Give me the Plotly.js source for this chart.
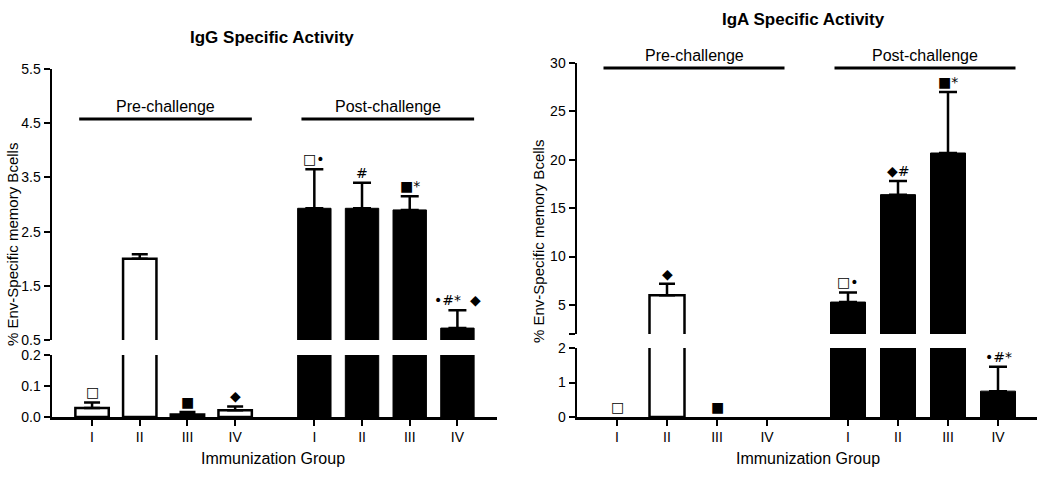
<!DOCTYPE html>
<html>
<head>
<meta charset="utf-8">
<script src="https://cdn.plot.ly/plotly-3.0.1.min.js"></script>
<style>html,body{margin:0;padding:0;background:#fff}#chart{width:1050px;height:477px}</style>
</head>
<body>
<div id="chart"></div>
<script>
// ---------------- data ----------------
const groups = ['I', 'II', 'III', 'IV'];

// IgG specific activity (% Env-specific memory B cells)
const iggPre      = [0.029, 2.0, 0.008, 0.022];
const iggPreSem   = [0.018, 0.08, 0.008, 0.012];
const iggPost     = [2.93, 2.93, 2.9, 0.72];
const iggPostSem  = [0.72, 0.47, 0.25, 0.33];
const iggPreSym   = ['□', '', '■', '◆'];
const iggPostSym  = ['□•', '#', '■*', '•#*  ◆'];

// IgA specific activity
const igaPre      = [0, 6.0, 0, 0];
const igaPreSem   = [0, 1.2, 0, 0];
const igaPost     = [5.3, 16.4, 20.7, 0.75];
const igaPostSem  = [1.0, 1.4, 6.3, 0.71];
const igaPreSym   = ['□', '◆', '■', ''];
const igaPostSym  = ['□•', '◆#', '■*', '•#*'];

const phaseLabels = ['Pre-challenge', 'Post-challenge'];
const chartTitles = ['IgG Specific Activity', 'IgA Specific Activity'];
const xTitle = 'Immunization Group';
const yTitle = '% Env-Specific memory Bcells';

// ---------------- layout helpers ----------------
const FONT = 'Liberation Sans, Arial, Helvetica, sans-serif';
const H = 477, W = 1050;
const py = p => (H - p) / H;   // pixel-from-top -> paper
const px = p => p / W;
const nz = arr => arr.map(v => (v === 0 ? null : v));

function positions(gap) {
  const pre = groups.map((g, i) => i + 1);
  const post = groups.map((g, i) => i + 1 + groups.length + gap);
  return {pre, post};
}

const charts = [
  {
    pre: iggPre, preSem: iggPreSem, post: iggPost, postSem: iggPostSem,
    preSym: iggPreSym, postSym: iggPostSym, gap: 0.66,
    xa: 'x', ylo: 'y', yhi: 'y2',
    xdom: [px(52), px(497)], xrange: [0.16, 9.49],
    lodom: [py(417), py(355)], lorange: [0, 0.2], lotick: [0, 0.1, 0.2], lotext: ['0.0', '0.1', '0.2'],
    hidom: [py(340), py(69)], hirange: [0.5, 5.5], hitick: [0.5, 1.5, 2.5, 3.5, 4.5, 5.5],
    hitext: ['0.5', '1.5', '2.5', '3.5', '4.5', '5.5'],
    lineY: py(119), titleX: px(272), titleY: py(38), xtX: px(273), ytX: px(13), ytY: py(245)
  },
  {
    pre: igaPre, preSem: igaPreSem, post: igaPost, postSem: igaPostSem,
    preSym: igaPreSym, postSym: igaPostSym, gap: 0.62,
    xa: 'x2', ylo: 'y3', yhi: 'y4',
    xdom: [px(577), px(1037)], xrange: [0.2, 9.4],
    lodom: [py(417), py(348)], lorange: [0, 2], lotick: [0, 1, 2], lotext: ['0', '1', '2'],
    hidom: [py(334), py(63)], hirange: [2, 30], hitick: [2, 5, 10, 15, 20, 25, 30],
    hitext: ['', '5', '10', '15', '20', '25', '30'],
    lineY: py(68), titleX: px(803), titleY: py(20), xtX: px(808), ytX: px(539), ytY: py(242)
  }
];

const traces = [];
const annotations = [];
const shapes = [];
const layout = {
  width: W, height: H,
  margin: {l: 0, r: 0, t: 0, b: 0},
  paper_bgcolor: '#fff', plot_bgcolor: '#fff',
  showlegend: false, barmode: 'overlay',
  font: {family: FONT, color: '#000', size: 14}
};

const axNum = a => a.length > 1 ? a.slice(1) : '';

charts.forEach((c, ci) => {
  const pos = positions(c.gap);
  const allPos = pos.pre.concat(pos.post);
  const ticktext = groups.concat(groups);

  [c.ylo, c.yhi].forEach(ya => {
    traces.push({
      type: 'bar', x: pos.pre, y: nz(c.pre), xaxis: c.xa, yaxis: ya, width: 0.7,
      marker: {color: '#fff', line: {color: '#000', width: 2.5}},
      error_y: {type: 'data', symmetric: false, array: nz(c.preSem), arrayminus: c.preSem.map(() => 0),
                color: '#000', thickness: 2.5, width: 8},
      hoverinfo: 'skip'
    });
    traces.push({
      type: 'bar', x: pos.post, y: nz(c.post), xaxis: c.xa, yaxis: ya, width: 0.7,
      marker: {color: '#000', line: {color: '#000', width: 1}},
      error_y: {type: 'data', symmetric: false, array: nz(c.postSem), arrayminus: c.postSem.map(() => 0),
                color: '#000', thickness: 2.5, width: 9},
      hoverinfo: 'skip'
    });
  });

  const common = {
    ticks: 'outside', ticklen: 6, tickwidth: 2, tickcolor: '#000',
    showline: true, linecolor: '#000', linewidth: 2.5,
    showgrid: false, zeroline: false, fixedrange: true,
    tickfont: {family: FONT, size: 14, color: '#000'}
  };
  layout['xaxis' + axNum(c.xa)] = Object.assign({
    domain: c.xdom, range: c.xrange, anchor: c.ylo,
    tickmode: 'array', tickvals: allPos, ticktext: ticktext
  }, common);
  layout['yaxis' + axNum(c.ylo)] = Object.assign({
    domain: c.lodom, range: c.lorange, anchor: c.xa,
    tickmode: 'array', tickvals: c.lotick, ticktext: c.lotext
  }, common);
  layout['yaxis' + axNum(c.yhi)] = Object.assign({
    domain: c.hidom, range: c.hirange, anchor: c.xa,
    tickmode: 'array', tickvals: c.hitick, ticktext: c.hitext
  }, common);

  // significance symbols above error bars
  const addSym = (xs, vals, sems, syms) => {
    xs.forEach((x, i) => {
      if (!syms[i]) return;
      const top = vals[i] + sems[i];
      const ya = top >= c.hirange[0] ? c.yhi : c.ylo;
      annotations.push({
        x: x, y: top, xref: c.xa, yref: ya, text: syms[i], showarrow: false,
        yanchor: 'bottom', yshift: 0,
        font: {family: 'DejaVu Sans, sans-serif', size: 14, color: '#000'}
      });
    });
  };
  addSym(pos.pre, c.pre, c.preSem, c.preSym);
  addSym(pos.post, c.post, c.postSem, c.postSym);

  // phase bars and labels
  [pos.pre, pos.post].forEach((p, pi) => {
    const x0 = p[0] - 0.27, x1 = p[p.length - 1] + 0.35;
    shapes.push({type: 'line', xref: c.xa, yref: 'paper', x0: x0, x1: x1, y0: c.lineY, y1: c.lineY,
                 line: {color: '#000', width: 3}});
    annotations.push({x: (x0 + x1) / 2, y: c.lineY, xref: c.xa, yref: 'paper', text: phaseLabels[pi],
                      showarrow: false, yanchor: 'bottom', yshift: 2,
                      font: {family: FONT, size: 16, color: '#000'}});
  });

  // chart title, axis titles
  annotations.push({x: c.titleX, y: c.titleY, xref: 'paper', yref: 'paper', text: '<b>' + chartTitles[ci] + '</b>',
                    showarrow: false, xanchor: 'center', yanchor: 'middle',
                    font: {family: FONT, size: 17, color: '#000'}});
  annotations.push({x: c.xtX, y: py(458), xref: 'paper', yref: 'paper', text: xTitle,
                    showarrow: false, xanchor: 'center', yanchor: 'middle',
                    font: {family: FONT, size: 16, color: '#000'}});
  annotations.push({x: c.ytX, y: c.ytY, xref: 'paper', yref: 'paper', text: yTitle, textangle: -90,
                    showarrow: false, xanchor: 'center', yanchor: 'middle',
                    font: {family: FONT, size: 15, color: '#000'}});
});

layout.annotations = annotations;
layout.shapes = shapes;

Plotly.newPlot('chart', traces, layout, {staticPlot: true, displayModeBar: false});
</script>
</body>
</html>
